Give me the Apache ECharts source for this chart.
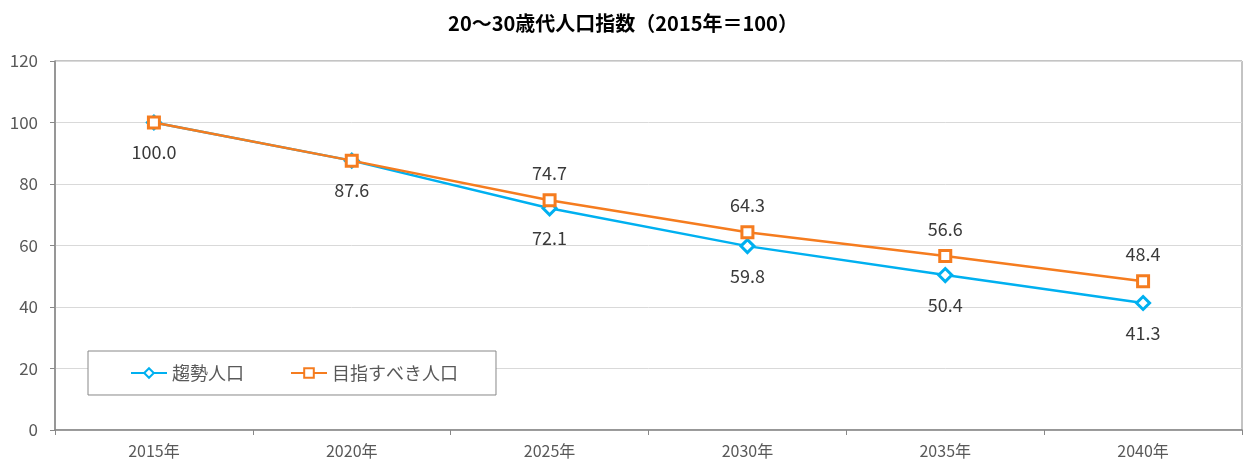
<!DOCTYPE html>
<html>
<head>
  <meta charset="utf-8">
  <title>20～30歳代人口指数</title>
  <script src="https://cdn.jsdelivr.net/npm/echarts/dist/echarts.min.js"></script>
  <style>
    html, body { margin: 0; padding: 0; background: #fff; }
    #main { width: 1246px; height: 464px; }
  </style>
</head>
<body>

<div id="main"></div>

<script>
  const years = ['2015年', '2020年', '2025年', '2030年', '2035年', '2040年'];
  const trendValues = [100.0, 87.6, 72.1, 59.8, 50.4, 41.3];
  const targetValues = [100.0, 87.6, 74.7, 64.3, 56.6, 48.4];
  // 目指すべき人口のラベルは2025年から表示
  const targetLabelFrom = 2;

  const font = '"Noto Sans CJK JP", "Noto Sans", sans-serif';

  var myChart = echarts.init(document.getElementById('main'));

  var option = {
    animation: false,
    title: {
      text: '20～30歳代人口指数（2015年＝100）',
      left: 'center',
      top: 8,
      textStyle: {
        fontFamily: font,
        fontSize: 20,
        fontWeight: 'bold',
        color: '#000'
      }
    },
    grid: {
      left: 55,
      right: 4,
      top: 61,
      bottom: 34,
      show: true,
      borderColor: '#888',
      borderWidth: 1
    },
    legend: {
      orient: 'horizontal',
      left: 88,
      top: 351,
      padding: [13, 38, 13, 42],
      itemGap: 46,
      itemWidth: 36,
      itemHeight: 12,
      borderColor: '#888',
      borderWidth: 1,
      backgroundColor: '#fff',
      textStyle: {
        fontFamily: font,
        fontSize: 18,
        color: '#595959'
      },
      data: ['趨勢人口', '目指すべき人口']
    },
    xAxis: {
      type: 'category',
      data: years,
      boundaryGap: true,
      axisLine: { lineStyle: { color: '#888', width: 1.5 } },
      axisTick: { show: true, length: 5, lineStyle: { color: '#888' } },
      axisLabel: {
        margin: 13,
        fontFamily: font,
        fontSize: 16,
        color: '#595959'
      }
    },
    yAxis: {
      type: 'value',
      min: 0,
      max: 120,
      interval: 20,
      axisLine: { show: true, lineStyle: { color: '#888', width: 1.5 } },
      axisTick: { show: true, length: 5, lineStyle: { color: '#888' } },
      splitLine: { lineStyle: { color: '#d9d9d9', width: 1 } },
      axisLabel: {
        margin: 17,
        fontFamily: font,
        fontSize: 17,
        color: '#595959'
      }
    },
    series: [
      {
        name: '趨勢人口',
        type: 'line',
        data: trendValues,
        z: 2,
        symbol: 'diamond',
        symbolSize: 13,
        color: '#00b0f0',
        lineStyle: { color: '#00b0f0', width: 2.5 },
        itemStyle: { color: '#fff', borderColor: '#00b0f0', borderWidth: 3 },
        label: {
          show: true,
          position: 'bottom',
          distance: 13,
          fontFamily: font,
          fontSize: 18,
          color: '#3a3a3a',
          formatter: function (p) { return p.value.toFixed(1); }
        }
      },
      {
        name: '目指すべき人口',
        type: 'line',
        data: targetValues.map(function (v, i) {
          return i < targetLabelFrom ? { value: v, label: { show: false } } : v;
        }),
        z: 3,
        symbol: 'rect',
        symbolSize: 11,
        color: '#f57c1f',
        lineStyle: { color: '#f57c1f', width: 2.5 },
        itemStyle: { color: '#fff', borderColor: '#f57c1f', borderWidth: 3 },
        label: {
          show: true,
          position: 'top',
          distance: 11,
          fontFamily: font,
          fontSize: 18,
          color: '#3a3a3a',
          formatter: function (p) { return Number(p.value).toFixed(1); }
        }
      }
    ]
  };

  myChart.setOption(option);
</script>
</body>
</html>
